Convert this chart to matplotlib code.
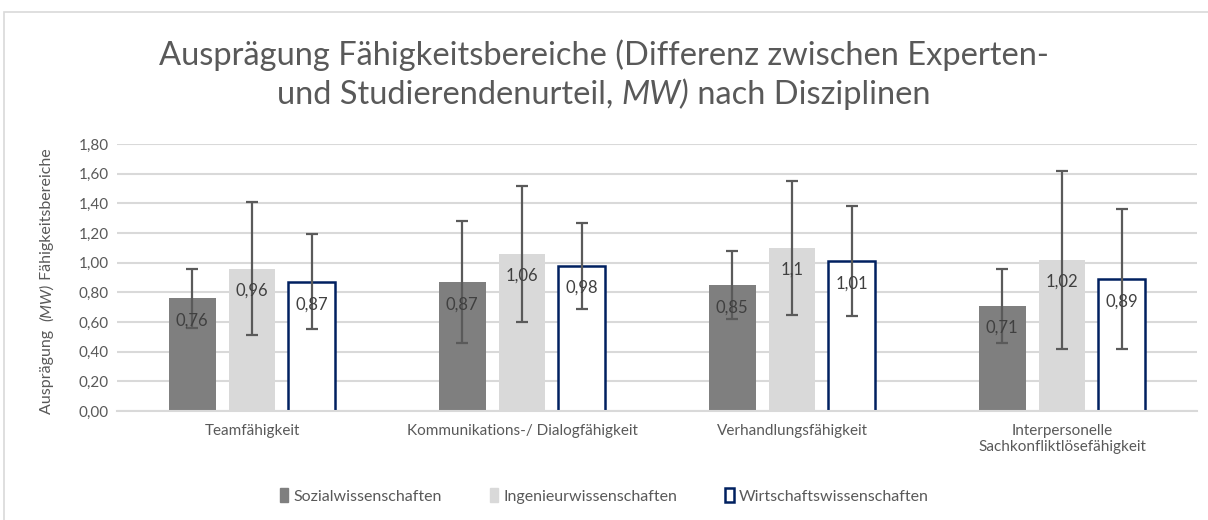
import numpy as np
import matplotlib
matplotlib.use("Agg")
import matplotlib.pyplot as plt
from matplotlib.patches import Rectangle, Patch

plt.rcParams["font.family"] = ["Lato", "DejaVu Sans"]

categories = ["Teamfähigkeit", "Kommunikations-/ Dialogfähigkeit",
              "Verhandlungsfähigkeit", "Interpersonelle\nSachkonfliktlösefähigkeit"]
series_names = ["Sozialwissenschaften", "Ingenieurwissenschaften", "Wirtschaftswissenschaften"]
sozial = [0.76, 0.87, 0.85, 0.71]
ingenieur = [0.96, 1.06, 1.10, 1.02]
wirtschaft = [0.87, 0.98, 1.01, 0.89]
sozial_err = [0.20, 0.41, 0.23, 0.25]
ingenieur_err = [0.45, 0.46, 0.45, 0.60]
wirtschaft_err = [0.32, 0.29, 0.37, 0.47]
yticks = [0.0, 0.2, 0.4, 0.6, 0.8, 1.0, 1.2, 1.4, 1.6, 1.8]

text_col = "#595959"
grid_col = "#d9d9d9"


def mixed_text(fig, cx, cy, pieces, vertical=False, **kw):
    """draw (text, style) pieces next to each other, centred on (cx, cy) in pixels"""
    rot = 90 if vertical else 0
    objs = [fig.text(0, 0, t, style=s, rotation=rot, ha="left", va="center",
                     rotation_mode="anchor", transform=None, **kw) for t, s in pieces]
    r = fig.canvas.get_renderer()
    sizes = []
    for o in objs:
        bb = o.get_window_extent(r)
        sizes.append(bb.height if vertical else bb.width)
    start = -sum(sizes) / 2
    for o, sz in zip(objs, sizes):
        if vertical:
            o.set_position((cx, cy + start))
        else:
            o.set_position((cx + start, cy))
        start += sz


fig = plt.figure(figsize=(12.08, 5.2), dpi=100)
fig.patches.append(Rectangle((4 / 1208, -0.1), 1.2, 1 - 12 / 520 + 0.1,
                             transform=fig.transFigure, fill=False,
                             edgecolor=grid_col, linewidth=1.2))
ax = fig.add_axes([117 / 1208, 1 - 411 / 520, 1080 / 1208, 267 / 520])

x = np.arange(len(categories))
offset = 0.222
width = 0.174
styles = [
    dict(color="#7f7f7f"),
    dict(color="#d9d9d9"),
    dict(facecolor="white", edgecolor="#002060", linewidth=1.8),
]
values = [sozial, ingenieur, wirtschaft]
errors = [sozial_err, ingenieur_err, wirtschaft_err]
handles = []
for i, (vals, errs, st) in enumerate(zip(values, errors, styles)):
    pos = x + (i - 1) * offset
    ax.bar(pos, vals, width, zorder=2, **st)
    ax.errorbar(pos, vals, yerr=errs, fmt="none", ecolor="#5a5a5a",
                elinewidth=1.6, capsize=4, capthick=1.6, zorder=3)
    for p, v in zip(pos, vals):
        ax.annotate(f"{v:g}".replace(".", ","), (p, v), xytext=(0, -16),
                    textcoords="offset points", ha="center", va="center",
                    fontsize=12, color="#404040", zorder=4)
    handles.append(Patch(**st))

ax.set_xlim(-0.5, len(categories) - 0.5)
ax.set_ylim(0, 1.8)
ax.set_yticks(yticks)
ax.set_yticklabels([f"{t:.2f}".replace(".", ",") for t in yticks])
ax.set_xticks(x)
ax.set_xticklabels(categories)
ax.tick_params(length=0, colors=text_col, labelsize=11)
ax.tick_params(axis="x", pad=9)
ax.tick_params(axis="y", pad=6)
ax.yaxis.grid(True, color=grid_col, linewidth=1.5, zorder=0)
ax.set_axisbelow(True)
for s in ["top", "right", "left"]:
    ax.spines[s].set_visible(False)
ax.spines["bottom"].set_color(grid_col)
ax.spines["bottom"].set_linewidth(1.5)

# y label with italic (MW)
mixed_text(fig, 47, 520 - 281,
           [("Ausprägung  ", "normal"), ("(MW)", "italic"), (" Fähigkeitsbereiche", "normal")],
           vertical=True, fontsize=11.5, color=text_col)

# title
mixed_text(fig, 604, 520 - 55,
           [("Ausprägung Fähigkeitsbereiche (Differenz zwischen Experten-", "normal")],
           fontsize=23.5, color=text_col)
mixed_text(fig, 604, 520 - 95,
           [("und Studierendenurteil, ", "normal"), ("MW)", "italic"),
            (" nach Disziplinen", "normal")],
           fontsize=23.5, color=text_col)

fig.legend(handles, series_names, loc="center", bbox_to_anchor=(0.5, 1 - 496 / 520),
           ncol=3, frameon=False, handlelength=0.55, handleheight=0.9,
           handletextpad=0.3, columnspacing=3.0, fontsize=11.5, labelcolor=text_col)

fig.savefig("out.png", dpi=100)
